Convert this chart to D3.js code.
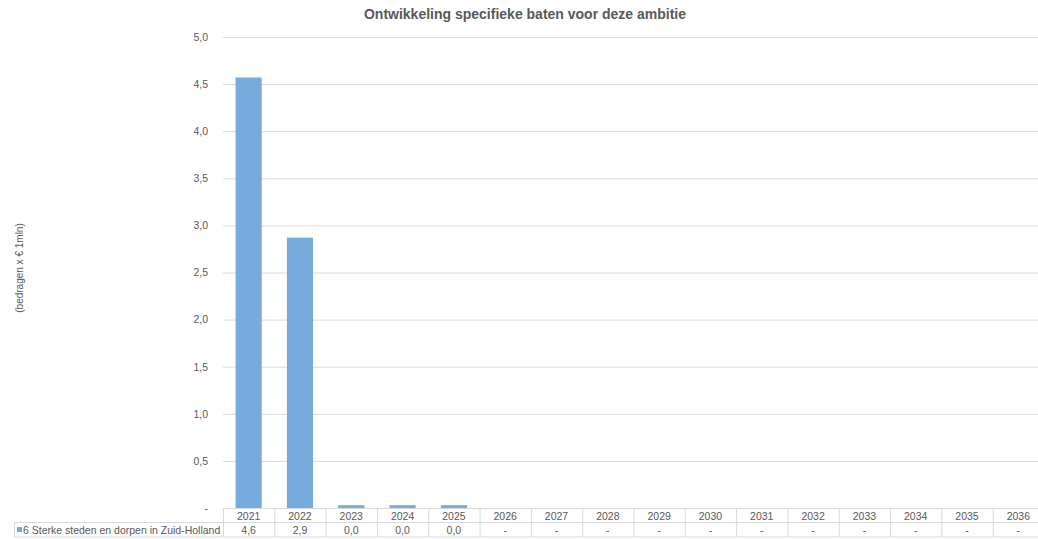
<!DOCTYPE html>
<html>
<head>
<meta charset="utf-8">
<script src="https://cdn.jsdelivr.net/npm/d3@7"></script>
<style>
  body { margin: 0; background: #fff; }
  svg { display: block; font-family: "Liberation Sans", Arial, sans-serif; }
</style>
</head>
<body>
<div id="chart"></div>
<script>
const years = ["2021","2022","2023","2024","2025","2026","2027","2028","2029","2030","2031","2032","2033","2034","2035","2036"];
const values = [4.57, 2.87, 0.03, 0.03, 0.03, null, null, null, null, null, null, null, null, null, null, null];
const seriesName = "6 Sterke steden en dorpen in Zuid-Holland";
const yTicks = [0, 0.5, 1, 1.5, 2, 2.5, 3, 3.5, 4, 4.5, 5];
const title = "Ontwikkeling specifieke baten voor deze ambitie";
const yLabel = "(bedragen x € 1mln)";

const W = 1038, H = 539;
const plotLeft = 223, plotRight = 1044, plotTop = 37, plotBottom = 508;
const rowH = 14.5;
const grey = "#595959";
const barColor = "#77abdd";

const fmt = v => v === null ? "-" : (v === 0 ? "-" : d3.format(".1f")(v).replace(".", ","));

const svg = d3.select("#chart").append("svg")
    .attr("width", W)
    .attr("height", H);

const x = d3.scaleBand().domain(years).range([plotLeft, plotRight]).paddingInner(0.49).paddingOuter(0.245);
const col = d3.scaleBand().domain(years).range([plotLeft, plotRight]);
const y = d3.scaleLinear().domain([0, 5]).range([plotBottom, plotTop]);

// gridlines
svg.append("g")
    .selectAll("line")
    .data(yTicks.filter(t => t > 0))
    .enter().append("line")
    .attr("x1", plotLeft).attr("x2", plotRight)
    .attr("y1", d => y(d) + 0.5).attr("y2", d => y(d) + 0.5)
    .attr("stroke", "#dcdcdc");

// y axis labels
const yAxis = svg.append("g")
    .attr("transform", `translate(${plotLeft - 12},0)`)
    .call(d3.axisLeft(y).tickValues(yTicks).tickSize(0).tickFormat(d => d === 0 ? "-" : d3.format(".1f")(d).replace(".", ",")));
yAxis.select(".domain").remove();
yAxis.selectAll("text")
    .attr("fill", grey)
    .style("font-size", "10.5px");

// bars
svg.append("g")
    .selectAll("rect")
    .data(years.map((yr, i) => ({ yr, v: values[i] })).filter(d => d.v !== null))
    .enter().append("rect")
    .attr("x", d => x(d.yr))
    .attr("width", x.bandwidth())
    .attr("y", d => y(d.v))
    .attr("height", d => plotBottom - y(d.v))
    .attr("fill", barColor);

// data table
const table = svg.append("g").attr("stroke", "#d9d9d9").attr("fill", "none");
table.append("line").attr("x1", plotLeft).attr("x2", plotRight).attr("y1", plotBottom + 0.5).attr("y2", plotBottom + 0.5);
table.append("line").attr("x1", 14).attr("x2", plotRight).attr("y1", plotBottom + rowH).attr("y2", plotBottom + rowH);
table.append("line").attr("x1", 14).attr("x2", plotRight).attr("y1", plotBottom + 2 * rowH).attr("y2", plotBottom + 2 * rowH);
table.append("line").attr("x1", 14.5).attr("x2", 14.5).attr("y1", plotBottom + rowH).attr("y2", plotBottom + 2 * rowH);
table.selectAll(".vdiv")
    .data(years)
    .enter().append("line")
    .attr("class", "vdiv")
    .attr("x1", d => col(d) + 0.5).attr("x2", d => col(d) + 0.5)
    .attr("y1", plotBottom).attr("y2", plotBottom + 2 * rowH);

svg.append("g")
    .selectAll("text")
    .data(years)
    .enter().append("text")
    .attr("x", d => col(d) + col.bandwidth() / 2)
    .attr("y", plotBottom + rowH - 3)
    .attr("text-anchor", "middle")
    .attr("fill", grey)
    .style("font-size", "10.5px")
    .text(d => d);

svg.append("g")
    .selectAll("text")
    .data(years.map((yr, i) => ({ yr, v: values[i] })))
    .enter().append("text")
    .attr("x", d => col(d.yr) + col.bandwidth() / 2)
    .attr("y", plotBottom + 2 * rowH - 3)
    .attr("text-anchor", "middle")
    .attr("fill", grey)
    .style("font-size", "10.5px")
    .text(d => fmt(d.v));

// legend key in table
svg.append("rect")
    .attr("x", 17).attr("y", plotBottom + rowH + 4.5)
    .attr("width", 5).attr("height", 5)
    .attr("fill", barColor);
svg.append("text")
    .attr("x", 23)
    .attr("y", plotBottom + 2 * rowH - 3)
    .attr("fill", grey)
    .style("font-size", "10.5px")
    .text(seriesName);

// title
svg.append("text")
    .attr("x", 525)
    .attr("y", 19)
    .attr("text-anchor", "middle")
    .attr("fill", grey)
    .style("font-size", "14px")
    .style("font-weight", "bold")
    .text(title);

// y label
svg.append("text")
    .attr("transform", "translate(23,268) rotate(-90)")
    .attr("text-anchor", "middle")
    .attr("fill", grey)
    .style("font-size", "10px")
    .text(yLabel);
</script>
</body>
</html>
